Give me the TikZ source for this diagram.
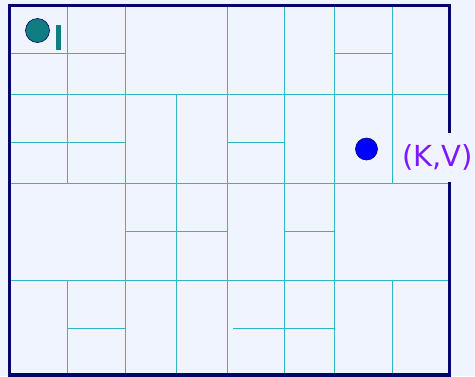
\documentclass[tikz,border=0pt]{standalone}
\usepackage{fontspec}
\newfontfamily\labelfont{DejaVu Sans}
\definecolor{bg}{RGB}{240,244,254}
\definecolor{navy}{RGB}{5,5,105}
\definecolor{gridc}{RGB}{45,182,200}
\definecolor{tealc}{RGB}{15,125,130}
\definecolor{violetc}{RGB}{125,25,255}
\begin{document}
\begin{tikzpicture}[x=1pt,y=-1pt,
  gridline/.style={draw=gridc,line width=0.9pt},
  frame/.style={draw=navy,line width=3.5pt},
  dot/.style={circle,draw=navy,line width=0.6pt,inner sep=0pt}]
\fill[bg] (0,0) rectangle (475,376);
\useasboundingbox (0,0) rectangle (475,376);
% verticals
\draw[gridline] (67,5) -- (67,183);
\draw[gridline] (67,280) -- (67,375);
\draw[gridline] (125,5) -- (125,375);
\draw[gridline] (176,94) -- (176,375);
\draw[gridline] (227,5) -- (227,375);
\draw[gridline] (284,5) -- (284,375);
\draw[gridline] (284,280) -- (284,300);
\draw[gridline] (334,5) -- (334,375);
\draw[gridline] (392,5) -- (392,183);
\draw[gridline] (392,280) -- (392,375);
% horizontals
\draw[gridline] (10,53) -- (125,53);
\draw[gridline] (334,53) -- (392,53);
\draw[gridline] (10,94) -- (450,94);
\draw[gridline] (10,142) -- (125,142);
\draw[gridline] (227,142) -- (284,142);
\draw[gridline] (10,183) -- (450,183);
\draw[gridline] (125,231) -- (227,231);
\draw[gridline] (284,231) -- (334,231);
\draw[gridline] (10,280) -- (450,280);
\draw[gridline] (67,328) -- (125,328);
\draw[gridline] (233,328) -- (334,328);
% frame
\draw[frame] (9.5,5.5) rectangle (449.5,375);
% points
\node[dot,fill=tealc,minimum size=24pt] (q) at (37.5,30.5) {};
\node[fill=tealc,inner sep=0pt,minimum width=5pt,minimum height=25pt] (bar) at (58.5,37.5) {};
\node[dot,fill=blue,minimum size=22pt] (p) at (366.5,149) {};
\node[fill=bg,text=violetc,font=\labelfont\fontsize{29}{29}\selectfont,
  minimum height=49pt,inner sep=2pt] (kv) at (437.5,157) {(K,V)};
\end{tikzpicture}
\end{document}
